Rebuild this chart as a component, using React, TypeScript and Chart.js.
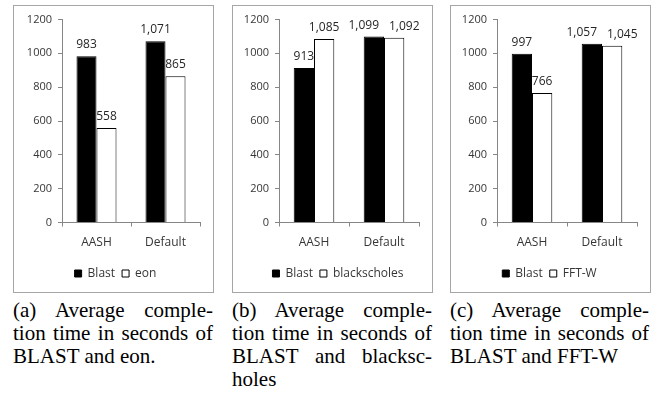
import React, { useEffect, useRef } from "react";
import { Chart, registerables } from "chart.js";

Chart.register(...registerables);

// ---- data ----
const categories = ["AASH", "Default"];
const blastA = [983, 1071];
const eonA = [558, 865];
const blastB = [913, 1099];
const blackscholesB = [1085, 1092];
const blastC = [997, 1057];
const fftwC = [766, 1045];
const yTicks = [0, 200, 400, 600, 800, 1000, 1200];

const captionA = ["(a) Average comple-", "tion time in seconds of", "BLAST and eon."];
const captionB = ["(b) Average comple-", "tion time in seconds of", "BLAST and blacksc-", "holes"];
const captionC = ["(c) Average comple-", "tion time in seconds of", "BLAST and FFT-W"];

const FONT = "'Open Sans', 'DejaVu Sans', sans-serif";
const AXIS_COLOR = "#868686";
const TEXT_COLOR = "#363636";

const valueLabelPlugin = {
  id: "valueLabels",
  afterDatasetsDraw(chart: any) {
    const ctx = chart.ctx;
    ctx.save();
    ctx.font = `12px ${FONT}`;
    ctx.fillStyle = "#262626";
    ctx.textAlign = "center";
    ctx.textBaseline = "middle";
    const nCat = chart.data.labels.length;
    for (let i = 0; i < nCat; i++) {
      const items: any[] = [];
      chart.data.datasets.forEach((ds: any, di: number) => {
        const meta = chart.getDatasetMeta(di);
        const el = meta.data[i];
        if (!el) return;
        const text = Number(ds.data[i]).toLocaleString("en-US");
        items.push({ x: el.x, y: el.y - 11.5, w: ctx.measureText(text).width, text });
      });
      items.sort((a, b) => a.x - b.x);
      for (let k = 0; k < items.length - 1; k++) {
        const a = items[k];
        const b = items[k + 1];
        if (Math.abs(a.y - b.y) < 14) {
          const need = (a.w + b.w) / 2 + 10 - (b.x - a.x);
          if (need > 0) {
            a.x -= need / 2;
            b.x += need / 2;
          }
        }
      }
      items.forEach((it) => ctx.fillText(it.text, it.x, it.y));
    }
    ctx.restore();
  },
};

function BarPanel(props: { s1: number[]; s2: number[]; name2: string; axisX: number; legendShift: number }) {
  const ref = useRef<HTMLCanvasElement>(null);
  useEffect(() => {
    if (!ref.current) return;
    const legendShiftPlugin = {
      id: "legendShift",
      afterLayout(chart: any) {
        if (chart.legend) {
          chart.legend.left += props.legendShift;
          chart.legend.right += props.legendShift;
        }
      },
    };
    const chart = new Chart(ref.current, {
      type: "bar",
      data: {
        labels: categories,
        datasets: [
          {
            label: "Blast",
            data: props.s1,
            backgroundColor: "#000000",
            borderColor: "#000000",
            borderWidth: 1,
          },
          {
            label: props.name2,
            data: props.s2,
            backgroundColor: "#ffffff",
            borderColor: "#000000",
            borderWidth: 1,
          },
        ],
      },
      options: {
        responsive: false,
        animation: false,
        devicePixelRatio: 1,
        layout: { padding: { top: 13.5, right: 13, bottom: 2.5, left: 0 } },
        datasets: { bar: { categoryPercentage: 0.58, barPercentage: 1.0 } },
        plugins: {
          legend: {
            position: "bottom",
            labels: {
              font: { family: FONT, size: 12 },
              color: TEXT_COLOR,
              boxWidth: 7,
              boxHeight: 7,
              padding: 7,
            },
          },
          tooltip: { enabled: false },
        },
        scales: {
          x: {
            afterFit: (s: any) => {
              s.height = 38;
            },
            grid: {
              drawOnChartArea: false,
              drawTicks: true,
              tickLength: 4,
              color: AXIS_COLOR,
              offset: true,
            },
            border: { color: AXIS_COLOR },
            ticks: { font: { family: FONT, size: 12 }, color: TEXT_COLOR, padding: 9 },
          },
          y: {
            min: yTicks[0],
            max: yTicks[yTicks.length - 1],
            afterFit: (s: any) => {
              s.width = props.axisX;
            },
            afterBuildTicks: (s: any) => {
              s.ticks = yTicks.map((v) => ({ value: v }));
            },
            grid: {
              drawOnChartArea: false,
              drawTicks: true,
              tickLength: 4,
              color: AXIS_COLOR,
            },
            border: { color: AXIS_COLOR },
            ticks: {
              font: { family: FONT, size: 11 },
              color: TEXT_COLOR,
              padding: 6,
              callback: (v: any) => String(v),
            },
          },
        },
      },
      plugins: [valueLabelPlugin, legendShiftPlugin],
    } as any);
    return () => chart.destroy();
  }, []);
  return <canvas ref={ref} width={199} height={286} style={{ display: "block", width: 199, height: 286 }} />;
}

function Caption(props: { lines: string[]; left: number; width: number }) {
  return (
    <div
      style={{
        position: "absolute",
        left: props.left,
        top: 299,
        width: props.width,
        fontFamily: "'Liberation Serif', 'Times New Roman', serif",
        fontSize: 21,
        lineHeight: "23px",
        color: "#000",
      }}
    >
      {props.lines.map((l, i) => (
        <div
          key={i}
          style={{
            whiteSpace: "nowrap",
            textAlign: "justify",
            textAlignLast: i < props.lines.length - 1 ? "justify" : "left",
          } as any}
        >
          {l}
        </div>
      ))}
    </div>
  );
}

function Panel(props: { left: number; children: any }) {
  return (
    <div
      style={{
        position: "absolute",
        left: props.left,
        top: 5,
        width: 201,
        height: 288,
        boxSizing: "border-box",
        border: "1px solid #a6a6a6",
        background: "#fff",
      }}
    >
      {props.children}
    </div>
  );
}

export default function App() {
  return (
    <div style={{ position: "fixed", left: 0, top: 0, width: 657, height: 396, background: "#fff", overflow: "hidden" }}>
      <Panel left={13}>
        <BarPanel s1={blastA} s2={eonA} name2="eon" axisX={48} legendShift={8.5} />
      </Panel>
      <Panel left={232}>
        <BarPanel s1={blastB} s2={blackscholesB} name2="blackscholes" axisX={46} legendShift={12} />
      </Panel>
      <Panel left={450}>
        <BarPanel s1={blastC} s2={fftwC} name2="FFT-W" axisX={46} legendShift={5.5} />
      </Panel>
      <Caption lines={captionA} left={13} width={200} />
      <Caption lines={captionB} left={232} width={200} />
      <Caption lines={captionC} left={450} width={199} />
    </div>
  );
}
